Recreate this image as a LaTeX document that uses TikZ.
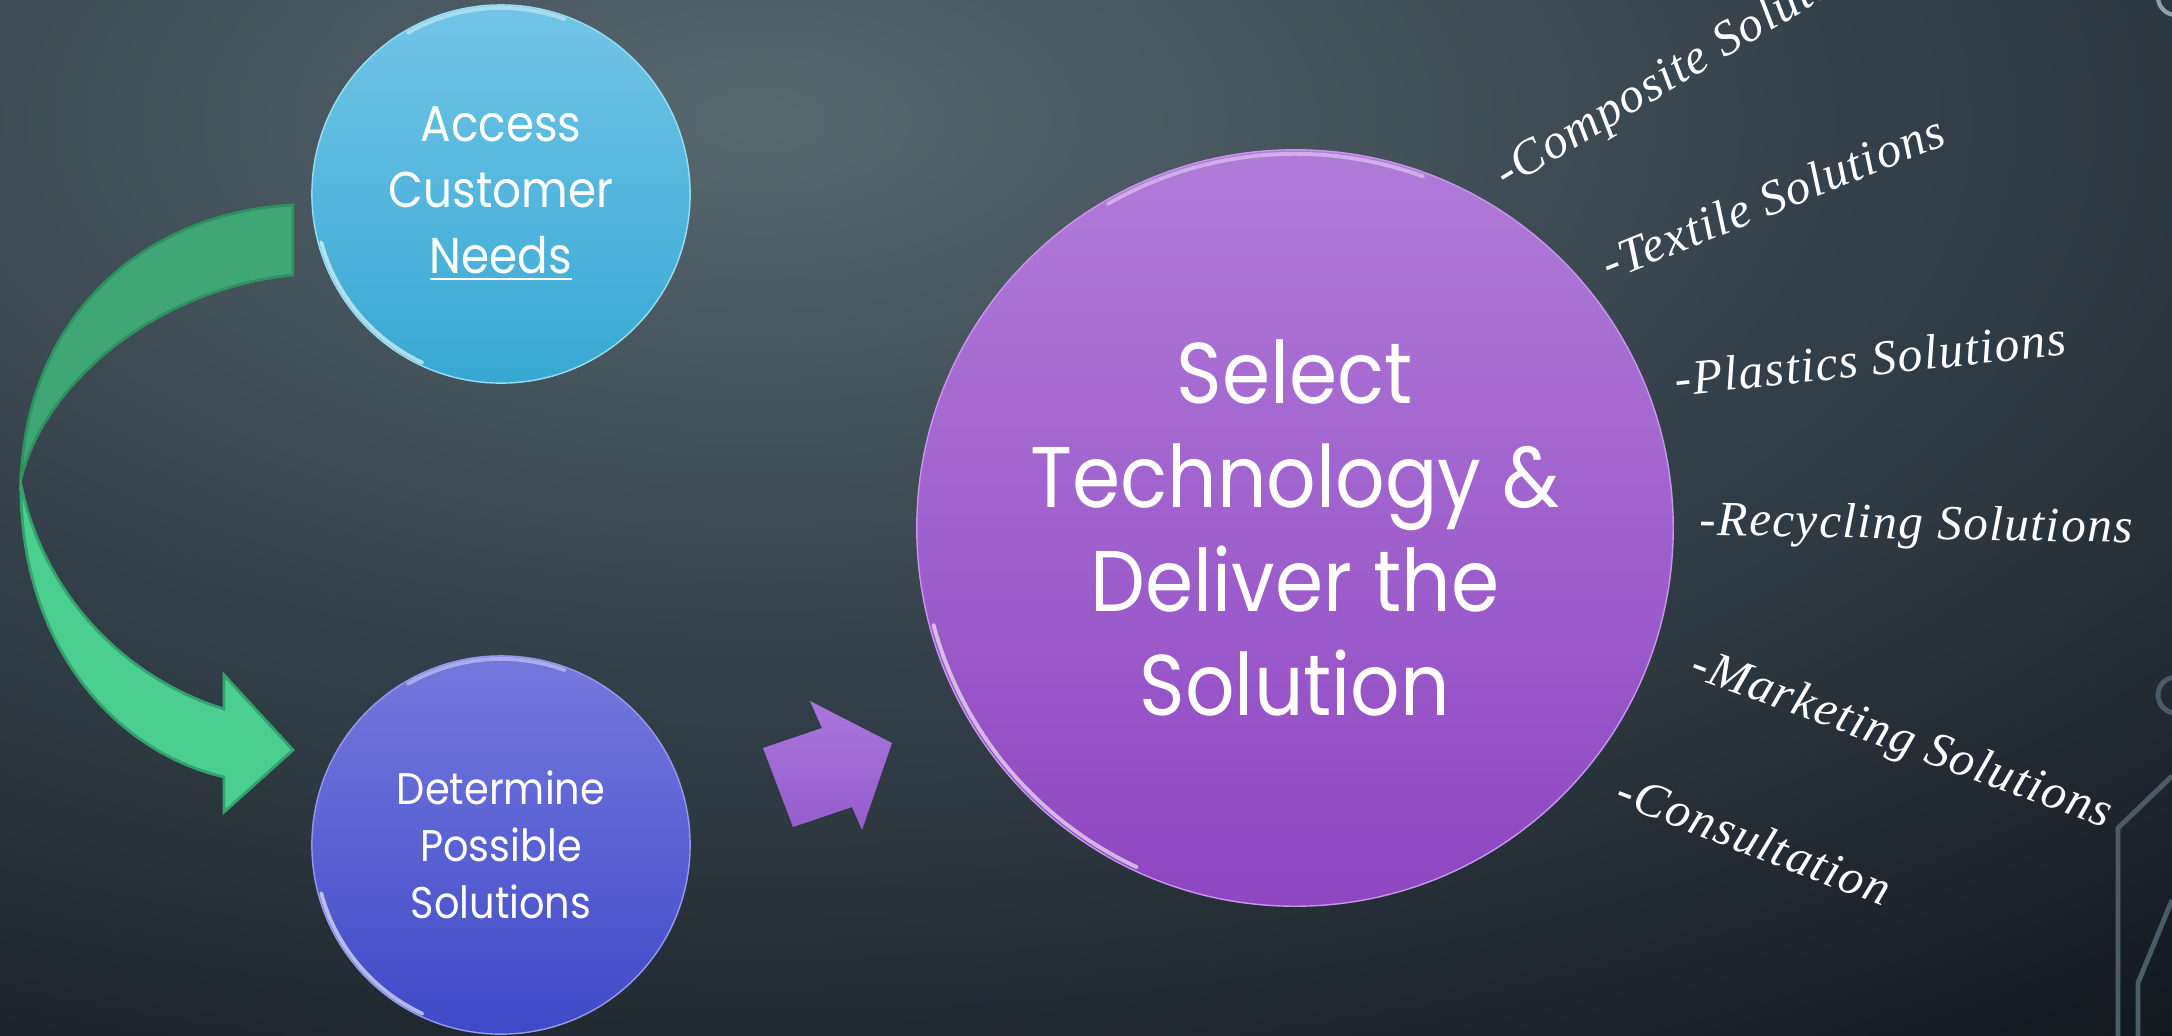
\documentclass[tikz,border=0pt]{standalone}
\usepackage{fontspec}
\newfontfamily\circfont{Poppins}[FakeStretch=0.9]
\newfontfamily\lblfont{Liberation Serif}[LetterSpace=3]

\definecolor{bgA}{HTML}{58686F}
\definecolor{bgB}{HTML}{36434C}
\definecolor{bgC}{HTML}{2C3740}
\definecolor{bgD}{HTML}{1B2129}
\definecolor{bgE}{HTML}{0F1218}
\definecolor{circuitc}{HTML}{4B5C66}
\definecolor{ringc}{HTML}{8EA1AC}
\pgfdeclareradialshading{slidebg}{\pgfpoint{0bp}{0bp}}{color(0bp)=(bgA); color(8.5bp)=(bgB); color(12bp)=(bgC); color(17bp)=(bgD); color(20.5bp)=(bgE); color(50bp)=(bgE)}

\tikzset{
  bubble/.style={circle, inner sep=0pt, text=white, align=center},
  rim/.style={white, opacity=.6, line width=1.1pt, line cap=round},
  circuit/.style={circuitc, line width=1.4pt},
  lbl/.style={anchor=base west, inner sep=0pt, text=white,
    font=\lblfont\itshape\fontsize{14}{16}\selectfont},
}

\begin{document}
\begin{tikzpicture}[x=0.01cm, y=-0.01cm]
\useasboundingbox (0,0) rectangle (2172,1035);
\clip (0,0) rectangle (2172,1035);
% background
\fill[bgE] (0,0) rectangle (2172,1035);
\shade[shading=slidebg] (760,120) ellipse [x radius=30cm, y radius=15cm];
% circuit lines at the right edge
\draw[circuit] (2172,776) -- (2118,828) -- (2118,1040);
\draw[circuit] (2172,900) -- (2138,983) -- (2138,1040);
\draw[circuit] (2176,695) circle [radius=0.18cm];
\draw[ringc, line width=1.2pt] (2176,-3) circle [radius=0.18cm];

% curved arrow
\filldraw[fill={rgb,255:red,62;green,167;blue,117}, draw={rgb,255:red,47;green,144;blue,96}, line width=0.8pt]
  (293,205) .. controls (150,212) and (28,310) .. (21,479)
  .. controls (45,380) and (160,288) .. (293,275) -- cycle;
\filldraw[fill={rgb,255:red,74;green,207;blue,144}, draw={rgb,255:red,51;green,162;blue,109}, line width=0.8pt]
  (21,485) .. controls (20,640) and (110,750) .. (224,777) -- (224,812) -- (293,750)
  -- (224,675) -- (224,709) .. controls (130,680) and (45,600) .. (21,485) -- cycle;

% circles
\node[bubble, minimum size=3.78cm, top color={rgb,255:red,114;green,197;blue,231},
  bottom color={rgb,255:red,55;green,168;blue,211}, draw={rgb,255:red,150;green,222;blue,244},
  font=\circfont\fontsize{14.3}{18.8}\selectfont] (needs) at (501,194)
  {Access\\Customer\\\underline{Needs}};
\node[bubble, minimum size=3.78cm, top color={rgb,255:red,117;green,121;blue,222},
  bottom color={rgb,255:red,63;green,73;blue,199}, draw={rgb,255:red,150;green,154;blue,238},
  font=\circfont\fontsize{12.6}{16.2}\selectfont] (options) at (501,845)
  {Determine\\Possible\\Solutions};
\node[bubble, minimum size=7.56cm, top color={rgb,255:red,177;green,123;blue,217},
  bottom color={rgb,255:red,142;green,70;blue,193}, draw={rgb,255:red,200;green,150;blue,235},
  font=\circfont\fontsize{24.5}{29.6}\selectfont] (deliver) at (1295,528)
  {Select\\Technology \&\\Deliver the\\Solution};
\foreach \n/\r in {needs/1.86, options/1.86, deliver/3.74} {
  \draw[rim] ([shift={(195:\r cm)}]\n.center) arc [start angle=195, end angle=245, radius=\r cm];
  \draw[rim, opacity=.4] ([shift={(70:\r cm)}]\n.center) arc [start angle=70, end angle=120, radius=\r cm];
}

% block arrow
\shade[top color={rgb,255:red,170;green,118;blue,220}, bottom color={rgb,255:red,150;green,92;blue,205}]
  (763,748) -- (822,728) -- (810,701) -- (892,743) -- (862,830) -- (852,807) -- (793,827) -- cycle;

% solutions
\foreach \x/\y/\a/\t [count=\i] in {1506/190/31/Composite Solutions,
    1609/281/22/Textile Solutions, 1676/396/6/Plastics Solutions,
    1699/535/-1/Recycling Solutions, 1688/676/-20/Marketing Solutions,
    1613/803/-21/Consultation} {
  \node[lbl, rotate=\a] (sol\i) at (\x,\y) {-\t};
}
\end{tikzpicture}
\end{document}
